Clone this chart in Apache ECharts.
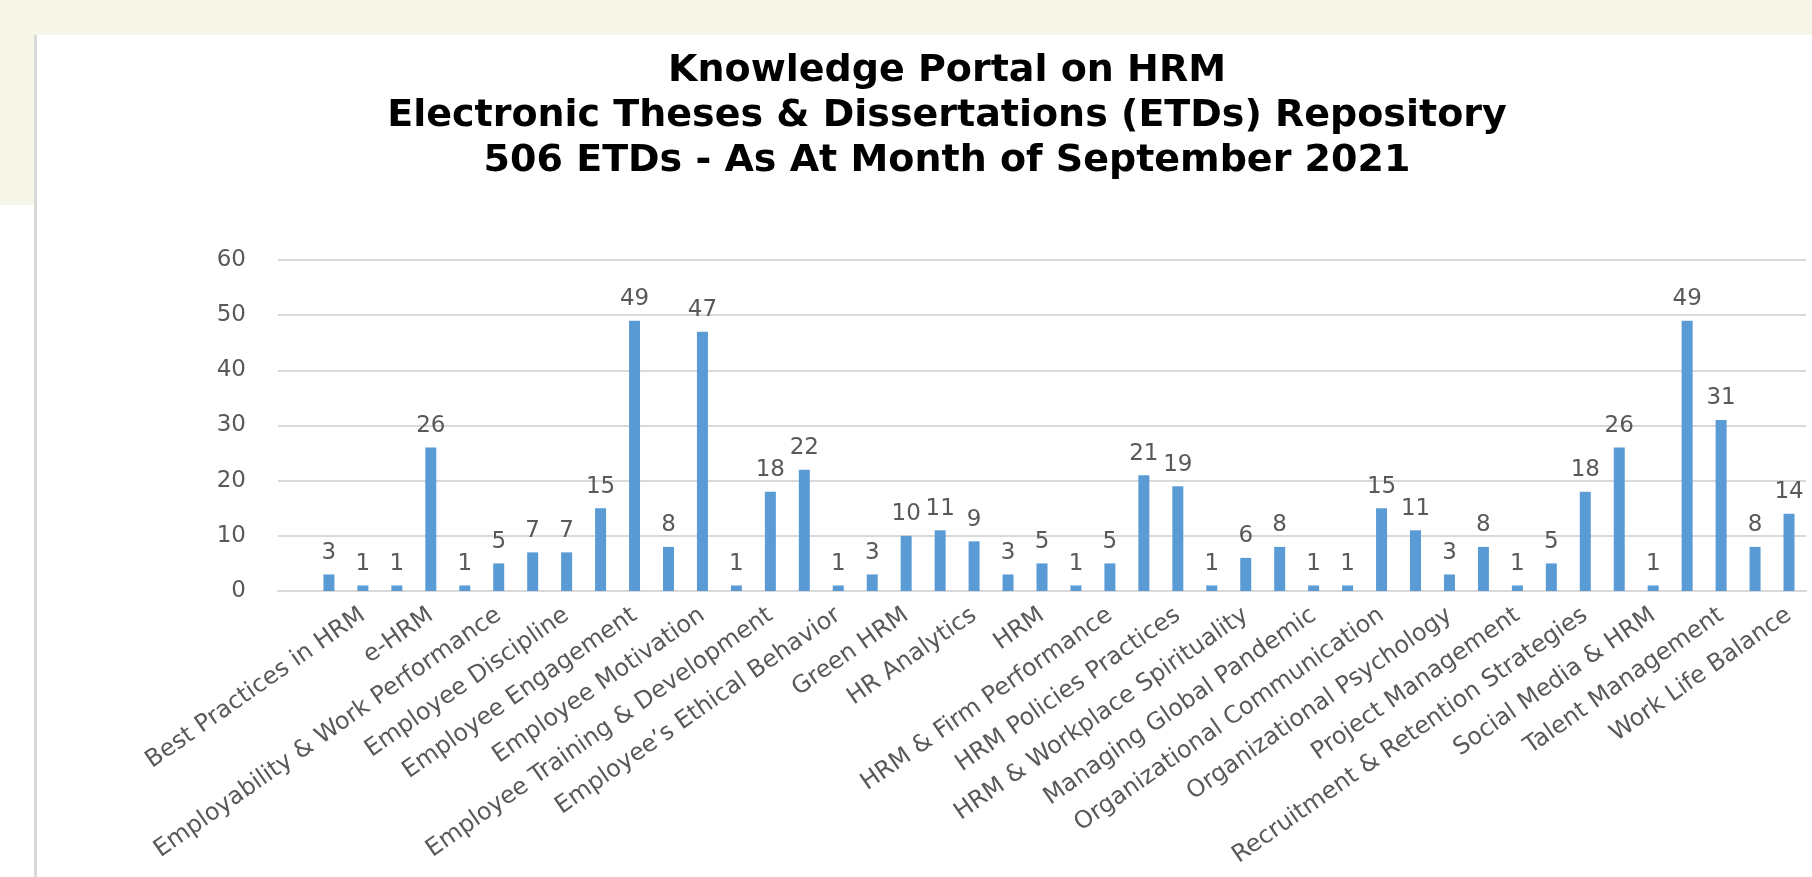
<!DOCTYPE html>
<html>
<head>
<meta charset="utf-8">
<title>Knowledge Portal on HRM - ETDs</title>
<script src="https://cdn.jsdelivr.net/npm/echarts@6/dist/echarts.min.js"></script>
<style>
  html, body { margin: 0; padding: 0; background: #ffffff; }
  #chart { width: 1812px; height: 877px; }
</style>
</head>
<body>
<div id="chart"></div>
<script>
// titulo del grafico (tres lineas)
const titleLines = [
  'Knowledge Portal on HRM',
  'Electronic Theses & Dissertations (ETDs) Repository',
  '506 ETDs - As At Month of September 2021'
];

// categorias: la primera posicion va vacia, y solo cada segunda etiqueta se ve en el original
const categories = [
  '', '', 'Best Practices in HRM', '', 'e-HRM', '', 'Employability & Work Performance', '',
  'Employee Discipline', '', 'Employee Engagement', '', 'Employee Motivation', '',
  'Employee Training & Development', '', 'Employee\u2019s Ethical Behavior', '', 'Green HRM', '',
  'HR Analytics', '', 'HRM', '', 'HRM & Firm Performance', '', 'HRM Policies Practices', '',
  'HRM & Workplace Spirituality', '', 'Managing Global Pandemic', '', 'Organizational Communication', '',
  'Organizational Psychology', '', 'Project Management', '', 'Recruitment & Retention Strategies', '',
  'Social Media & HRM', '', 'Talent Management', '', 'Work Life Balance'
];

// numero de ETDs por tema (total 506)
const etdCounts = [
  null, 3, 1, 1, 26, 1, 5, 7, 7, 15, 49, 8, 47, 1, 18, 22, 1, 3, 10, 11, 9,
  3, 5, 1, 5, 21, 19, 1, 6, 8, 1, 1, 15, 11, 3, 8, 1, 5, 18, 26, 1, 49, 31, 8, 14
];

// eje y
const yMin = 0;
const yMax = 60;
const yStep = 10;

var chartDom = document.getElementById('chart');
var myChart = echarts.init(chartDom);
var option;

option = {
  backgroundColor: '#ffffff',
  animation: false,
  title: {
    text: titleLines.join('\n'),
    left: 947,
    top: 49,
    padding: 0,
    textAlign: 'center',
    textStyle: {
      fontFamily: 'DejaVu Sans',
      fontWeight: 'bold',
      fontSize: 38,
      lineHeight: 45,
      color: '#000000'
    }
  },
  graphic: [
    // franja superior y bloque izquierdo de la diapositiva
    { type: 'rect', silent: true, z: -10, shape: { x: 0, y: 0, width: 1812, height: 35 }, style: { fill: '#f5f5e8' } },
    { type: 'rect', silent: true, z: -10, shape: { x: 0, y: 0, width: 34, height: 205 }, style: { fill: '#f5f5e8' } },
    { type: 'rect', silent: true, z: -10, shape: { x: 34, y: 35, width: 3, height: 842 }, style: { fill: '#d9d9d9' } }
  ],
  grid: {
    left: 278,
    right: 6,
    top: 260,
    bottom: 286,
    containLabel: false
  },
  xAxis: {
    type: 'category',
    data: categories,
    axisLine: { lineStyle: { color: '#d9d9d9', width: 2 } },
    axisTick: { show: false },
    axisLabel: {
      interval: 1,
      rotate: 35,
      margin: 22,
      fontFamily: 'DejaVu Sans',
      fontSize: 24,
      color: '#595959'
    }
  },
  yAxis: {
    type: 'value',
    min: yMin,
    max: yMax,
    interval: yStep,
    axisLine: { show: false },
    axisTick: { show: false },
    splitLine: { lineStyle: { color: '#d9d9d9', width: 2 } },
    axisLabel: {
      margin: 32,
      fontFamily: 'DejaVu Sans',
      fontSize: 23,
      color: '#595959'
    }
  },
  series: [
    {
      type: 'bar',
      data: etdCounts,
      barWidth: 11,
      itemStyle: { color: '#5b9bd5' },
      label: {
        show: true,
        position: 'top',
        distance: 10,
        fontFamily: 'DejaVu Sans',
        fontSize: 23,
        color: '#595959'
      }
    }
  ]
};

option && myChart.setOption(option);
</script>
</body>
</html>
